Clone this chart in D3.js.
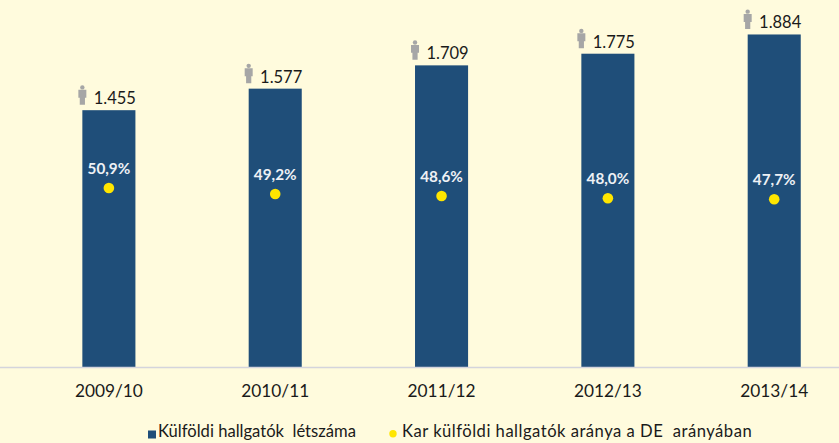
<!DOCTYPE html>
<html>
<head>
<meta charset="utf-8">
<script src="https://cdn.jsdelivr.net/npm/d3@7"></script>
<style>
html, body { margin: 0; padding: 0; background: #fffbdd; }
svg { display: block; font-family: Lato, "Open Sans", sans-serif; }
</style>
</head>
<body>
<div id="chart"></div>
<script>
const years = ["2009/10", "2010/11", "2011/12", "2012/13", "2013/14"]
const students = [1455, 1577, 1709, 1775, 1884]
const ratios = [50.9, 49.2, 48.6, 48.0, 47.7]
const countLabels = ["1.455", "1.577", "1.709", "1.775", "1.884"]
const ratioLabels = ["50,9%", "49,2%", "48,6%", "48,0%", "47,7%"]
const legendBar = "Külföldi hallgatók  létszáma"
const legendDot = "Kar külföldi hallgatók aránya a DE  arányában"

const width = 839
const height = 443
const baseline = 367

const svg = d3.select("#chart").append("svg")
    .attr("width", width)
    .attr("height", height)

const x = d3.scaleBand().domain(years).range([25.8, 857.3]).paddingInner(0.681).paddingOuter(0.34)
// 1884 -> y=34
const y = d3.scaleLinear().domain([0, 2000]).range([baseline, 14])
const yRatio = d3.scaleLinear().domain([0, 100]).range([baseline, 15.3])

svg.selectAll(".bar")
    .data(years)
    .enter()
    .append("rect")
    .attr("class", "bar")
    .attr("x", d => x(d))
    .attr("y", (d, i) => y(students[i]))
    .attr("width", x.bandwidth())
    .attr("height", (d, i) => baseline - y(students[i]))
    .attr("fill", "#1f4e79")

// axis
svg.append("line")
    .attr("x1", 0).attr("x2", width)
    .attr("y1", baseline + 0.5).attr("y2", baseline + 0.5)
    .attr("stroke", "#d4d4dc")
    .attr("stroke-width", 1.7)

svg.selectAll(".year")
    .data(years)
    .enter()
    .append("text")
    .attr("class", "year")
    .attr("x", d => x(d) + x.bandwidth() / 2)
    .attr("y", 397)
    .attr("text-anchor", "middle")
    .attr("font-size", 17.3)
    .attr("fill", "#1a1a1a")
    .text(d => d)

// person icon + count
const person = svg.selectAll(".person")
    .data(years)
    .enter()
    .append("g")
    .attr("class", "person")
    .attr("transform", (d, i) => `translate(${x(d)},${y(students[i]) - 25})`)
    .attr("fill", "#a6a6a6")
person.append("circle").attr("cx", 0).attr("cy", 2.2).attr("r", 2.2)
person.append("path").attr("d", "M-4,4.6 H4 V12.5 H2.6 V19.5 H-2.6 V12.5 H-4 Z")

svg.selectAll(".count")
    .data(countLabels)
    .enter()
    .append("text")
    .attr("class", "count")
    .attr("x", (d, i) => x(years[i]) + 32.5)
    .attr("y", (d, i) => y(students[i]) - 6)
    .attr("text-anchor", "middle")
    .attr("font-size", 16.5)
    .attr("fill", "#1a1a1a")
    .text(d => d)

// ratio points
svg.selectAll(".dot")
    .data(years)
    .enter()
    .append("circle")
    .attr("class", "dot")
    .attr("cx", d => x(d) + x.bandwidth() / 2)
    .attr("cy", (d, i) => yRatio(ratios[i]))
    .attr("r", 5.3)
    .attr("fill", "#ffe600")

svg.selectAll(".ratio")
    .data(ratioLabels)
    .enter()
    .append("text")
    .attr("class", "ratio")
    .attr("x", (d, i) => x(years[i]) + x.bandwidth() / 2)
    .attr("y", (d, i) => yRatio(ratios[i]) - 14)
    .attr("text-anchor", "middle")
    .attr("font-size", 15.3)
    .attr("font-weight", 700)
    .attr("fill", "#eef1f5")
    .text(d => d)

// legend
svg.append("rect")
    .attr("x", 148).attr("y", 430.5)
    .attr("width", 8).attr("height", 8)
    .attr("fill", "#1f4e79")
svg.append("text")
    .attr("x", 158).attr("y", 437)
    .attr("font-size", 16.6)
    .attr("fill", "#1a1a1a")
    .style("white-space", "pre")
    .text(legendBar)
svg.append("circle")
    .attr("cx", 393).attr("cy", 433.7)
    .attr("r", 3.7)
    .attr("fill", "#ffe600")
svg.append("text")
    .attr("x", 402).attr("y", 437)
    .attr("font-size", 16.6)
    .attr("letter-spacing", 0.5)
    .attr("fill", "#1a1a1a")
    .style("white-space", "pre")
    .text(legendDot)
</script>
</body>
</html>
